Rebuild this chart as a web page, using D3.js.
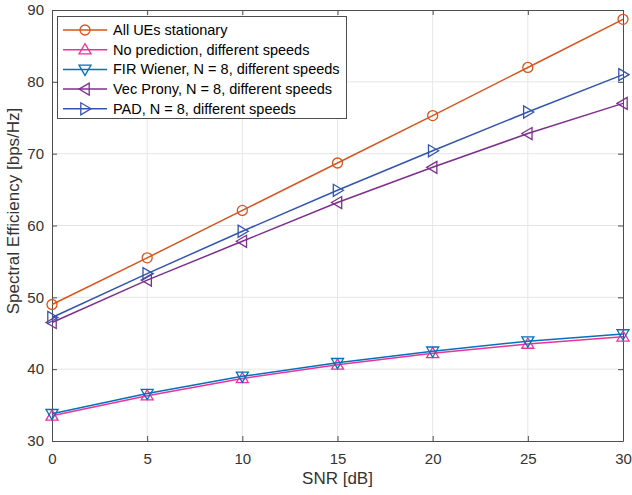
<!DOCTYPE html>
<html><head><meta charset="utf-8">
<script src="https://cdn.jsdelivr.net/npm/d3@7"></script>
<style>body{margin:0;background:#fff;} svg{display:block;font-family:"Liberation Sans",Arial,sans-serif;}</style>
</head><body><svg id="c" width="632" height="495"></svg>
<script>
const snr = [0, 5, 10, 15, 20, 25, 30];
const stationary = [49.0, 55.5, 62.1, 68.7, 75.3, 82.0, 88.7];
const noPred = [33.5, 36.3, 38.7, 40.6, 42.2, 43.5, 44.5];
const firWiener = [33.8, 36.6, 39.0, 40.9, 42.5, 43.9, 44.9];
const vecProny = [46.5, 52.4, 57.8, 63.2, 68.1, 72.8, 77.0];
const pad = [47.2, 53.3, 59.2, 64.9, 70.4, 75.8, 81.0];
const xTicks = [0, 5, 10, 15, 20, 25, 30];
const yTicks = [30, 40, 50, 60, 70, 80, 90];
const seriesNames = ["All UEs stationary", "No prediction, different speeds", "FIR Wiener, N = 8, different speeds", "Vec Prony, N = 8, different speeds", "PAD, N = 8, different speeds"];

const series = [
  {name: seriesNames[0], vals: stationary, color: "#D95319", marker: "circle"},
  {name: seriesNames[1], vals: noPred, color: "#F0309A", marker: "up"},
  {name: seriesNames[2], vals: firWiener, color: "#0072BD", marker: "down"},
  {name: seriesNames[3], vals: vecProny, color: "#7E2F8E", marker: "left"},
  {name: seriesNames[4], vals: pad, color: "#3355B0", marker: "right"}
];

const L = 52, R = 623, T = 10, B = 441;
const x = d3.scaleLinear().domain([0, 30]).range([L, R]);
const y = d3.scaleLinear().domain([30, 90]).range([B, T]);
const svg = d3.select("#c");
const axisColor = "#4d4d4d";

// grid
svg.append("g").selectAll("line").data(xTicks.slice(1, -1)).join("line")
  .attr("x1", d => x(d)).attr("x2", d => x(d)).attr("y1", T).attr("y2", B)
  .attr("stroke", "#e6e6e6").attr("stroke-width", 1);
svg.append("g").selectAll("line").data(yTicks.slice(1, -1)).join("line")
  .attr("y1", d => y(d)).attr("y2", d => y(d)).attr("x1", L).attr("x2", R)
  .attr("stroke", "#e6e6e6").attr("stroke-width", 1);

// axes
const ax = svg.append("g").attr("transform", `translate(0,${B})`)
  .call(d3.axisBottom(x).tickValues(xTicks).tickSizeInner(-5).tickSizeOuter(0).tickPadding(12));
const ay = svg.append("g").attr("transform", `translate(${L},0)`)
  .call(d3.axisLeft(y).tickValues(yTicks).tickSizeInner(-5).tickSizeOuter(0).tickPadding(8));
const axT = svg.append("g").attr("transform", `translate(0,${T})`)
  .call(d3.axisTop(x).tickValues(xTicks).tickSizeInner(-5).tickSizeOuter(0).tickFormat(""));
const ayR = svg.append("g").attr("transform", `translate(${R},0)`)
  .call(d3.axisRight(y).tickValues(yTicks).tickSizeInner(-5).tickSizeOuter(0).tickFormat(""));
[ax, ay, axT, ayR].forEach(g => {
  g.selectAll("path").attr("stroke", axisColor).attr("stroke-width", 1);
  g.selectAll("line").attr("stroke", axisColor);
  g.selectAll("text").attr("fill", "#333").attr("font-size", 15).attr("font-family", "'Liberation Sans',Arial,sans-serif");
});

// labels
svg.append("text").attr("x", (L + R) / 2).attr("y", 484).attr("text-anchor", "middle")
  .attr("font-size", 17).attr("fill", "#333").text("SNR [dB]");
svg.append("text").attr("transform", `translate(19,211) rotate(-90)`).attr("text-anchor", "middle")
  .attr("font-size", 17).attr("fill", "#333").text("Spectral Efficiency [bps/Hz]");

function drawMarker(g, type, cx, cy, color) {
  const s = 6;
  if (type === "circle") {
    g.append("circle").attr("cx", cx).attr("cy", cy).attr("r", 5).attr("fill", "none").attr("stroke", color).attr("stroke-width", 1.3);
    return;
  }
  let pts;
  if (type === "up") pts = [[0, -s], [s, s * 0.7], [-s, s * 0.7]];
  if (type === "down") pts = [[0, s], [s, -s * 0.7], [-s, -s * 0.7]];
  if (type === "left") pts = [[-s, 0], [s * 0.7, -s], [s * 0.7, s]];
  if (type === "right") pts = [[s, 0], [-s * 0.7, -s], [-s * 0.7, s]];
  g.append("polygon").attr("points", pts.map(p => [cx + p[0], cy + p[1]].join(",")).join(" "))
    .attr("fill", "none").attr("stroke", color).attr("stroke-width", 1.3);
}

const line = d3.line().x((d, i) => x(snr[i])).y(d => y(d));
series.forEach(s => {
  const g = svg.append("g");
  g.append("path").datum(s.vals).attr("d", line).attr("fill", "none").attr("stroke", s.color).attr("stroke-width", 1.5);
  s.vals.forEach((v, i) => drawMarker(g, s.marker, x(snr[i]), y(v), s.color));
});

// legend
const lg = svg.append("g");
lg.append("rect").attr("x", 57.5).attr("y", 16.5).attr("width", 289).attr("height", 102)
  .attr("fill", "#fff").attr("stroke", "#4d4d4d").attr("stroke-width", 1);
series.forEach((s, i) => {
  const yy = 30 + i * 19.7;
  lg.append("line").attr("x1", 63).attr("x2", 107).attr("y1", yy).attr("y2", yy).attr("stroke", s.color).attr("stroke-width", 1.5);
  drawMarker(lg, s.marker, 85, yy, s.color);
  lg.append("text").attr("x", 113).attr("y", yy + 5).attr("font-size", 14.5).attr("fill", "#000").text(s.name);
});
</script></body></html>
